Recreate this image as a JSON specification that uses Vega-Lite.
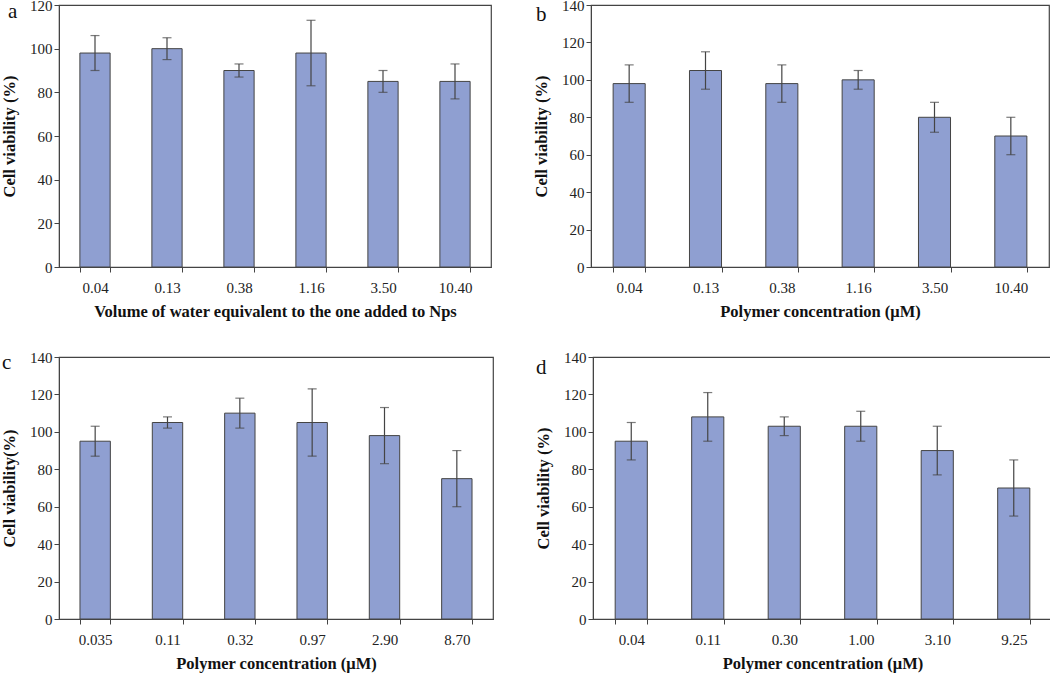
{
  "$schema": "https://vega.github.io/schema/vega-lite/v6.json",
  "padding": {"left": 0, "top": -3, "right": 4, "bottom": 0},
  "background": "white",
  "spacing": 28,
  "config": {
    "font": "Liberation Serif",
    "view": {"stroke": "#444444", "strokeWidth": 1.2},
    "axis": {
      "labelFont": "Liberation Serif", "labelFontSize": 15, "labelColor": "#222222", "labelOverlap": false,
      "titleFont": "Liberation Serif", "titleFontSize": 16.5, "titleFontWeight": "bold", "titleColor": "#111111",
      "domainColor": "#444444", "tickColor": "#444444", "grid": false, "tickSize": 5
    },
    "title": {"font": "Liberation Serif", "fontSize": 21, "fontWeight": "normal", "color": "#111111", "anchor": "start", "frame": "group", "offset": 0, "baseline": "alphabetic"},
    "concat": {"spacing": 40}
  },
  "datasets": {
    "a": [
      {"x": "0.04", "v": 98, "lo": 90, "hi": 106},
      {"x": "0.13", "v": 100, "lo": 95, "hi": 105},
      {"x": "0.38", "v": 90, "lo": 87, "hi": 93},
      {"x": "1.16", "v": 98, "lo": 83, "hi": 113},
      {"x": "3.50", "v": 85, "lo": 80, "hi": 90},
      {"x": "10.40", "v": 85, "lo": 77, "hi": 93}
    ],
    "b": [
      {"x": "0.04", "v": 98, "lo": 88, "hi": 108},
      {"x": "0.13", "v": 105, "lo": 95, "hi": 115},
      {"x": "0.38", "v": 98, "lo": 88, "hi": 108},
      {"x": "1.16", "v": 100, "lo": 95, "hi": 105},
      {"x": "3.50", "v": 80, "lo": 72, "hi": 88},
      {"x": "10.40", "v": 70, "lo": 60, "hi": 80}
    ],
    "c": [
      {"x": "0.035", "v": 95, "lo": 87, "hi": 103},
      {"x": "0.11", "v": 105, "lo": 102, "hi": 108},
      {"x": "0.32", "v": 110, "lo": 102, "hi": 118},
      {"x": "0.97", "v": 105, "lo": 87, "hi": 123},
      {"x": "2.90", "v": 98, "lo": 83, "hi": 113},
      {"x": "8.70", "v": 75, "lo": 60, "hi": 90}
    ],
    "d": [
      {"x": "0.04", "v": 95, "lo": 85, "hi": 105},
      {"x": "0.11", "v": 108, "lo": 95, "hi": 121},
      {"x": "0.30", "v": 103, "lo": 98, "hi": 108},
      {"x": "1.00", "v": 103, "lo": 95, "hi": 111},
      {"x": "3.10", "v": 90, "lo": 77, "hi": 103},
      {"x": "9.25", "v": 70, "lo": 55, "hi": 85}
    ]
  },
  "vconcat": [
    {
      "hconcat": [
        {
          "title": {"text": "a", "dx": -51, "dy": 28},
          "width": 432, "height": 262,
          "data": {"name": "a"},
          "encoding": {
            "x": {"field": "x", "type": "nominal", "sort": null,
                  "scale": {"paddingInner": 0.58, "paddingOuter": 0.29},
                  "axis": {"title": "Volume of water equivalent to the one added to Nps", "labelAngle": 0, "tickBand": "extent", "labelPadding": 8, "titlePadding": 8}}
          },
          "layer": [
            {"mark": {"type": "bar", "fill": "#8f9fd1", "stroke": "#444444", "strokeWidth": 1},
             "encoding": {"y": {"field": "v", "type": "quantitative", "scale": {"domain": [0, 120]},
               "axis": {"title": "Cell viability (%)", "values": [0, 20, 40, 60, 80, 100, 120], "tickCount": 20, "labelOverlap": false, "labelPadding": 2, "minExtent": 30, "maxExtent": 30, "titlePadding": 12}}}},
            {"mark": {"type": "rule", "color": "#444444", "strokeWidth": 1.2},
             "encoding": {"y": {"field": "lo", "type": "quantitative"}, "y2": {"field": "hi"}}},
            {"mark": {"type": "tick", "color": "#444444", "size": 9, "thickness": 1.2},
             "encoding": {"y": {"field": "lo", "type": "quantitative"}}},
            {"mark": {"type": "tick", "color": "#444444", "size": 9, "thickness": 1.2},
             "encoding": {"y": {"field": "hi", "type": "quantitative"}}}
          ]
        },
        {
          "title": {"text": "b", "dx": -55, "dy": 31},
          "width": 458, "height": 262,
          "data": {"name": "b"},
          "encoding": {
            "x": {"field": "x", "type": "nominal", "sort": null,
                  "scale": {"paddingInner": 0.58, "paddingOuter": 0.29},
                  "axis": {"title": "Polymer concentration (μM)", "labelAngle": 0, "tickBand": "extent", "labelPadding": 8, "titlePadding": 8}}
          },
          "layer": [
            {"mark": {"type": "bar", "fill": "#8f9fd1", "stroke": "#444444", "strokeWidth": 1},
             "encoding": {"y": {"field": "v", "type": "quantitative", "scale": {"domain": [0, 140]},
               "axis": {"title": "Cell viability (%)", "values": [0, 20, 40, 60, 80, 100, 120, 140], "tickCount": 20, "labelOverlap": false, "labelPadding": 2, "minExtent": 30, "maxExtent": 30, "titlePadding": 12}}}},
            {"mark": {"type": "rule", "color": "#444444", "strokeWidth": 1.2},
             "encoding": {"y": {"field": "lo", "type": "quantitative"}, "y2": {"field": "hi"}}},
            {"mark": {"type": "tick", "color": "#444444", "size": 9, "thickness": 1.2},
             "encoding": {"y": {"field": "lo", "type": "quantitative"}}},
            {"mark": {"type": "tick", "color": "#444444", "size": 9, "thickness": 1.2},
             "encoding": {"y": {"field": "hi", "type": "quantitative"}}}
          ]
        }
      ]
    },
    {
      "hconcat": [
        {
          "title": {"text": "c", "dx": -57, "dy": 27},
          "width": 434, "height": 262,
          "data": {"name": "c"},
          "encoding": {
            "x": {"field": "x", "type": "nominal", "sort": null,
                  "scale": {"paddingInner": 0.58, "paddingOuter": 0.29},
                  "axis": {"title": "Polymer concentration (μM)", "labelAngle": 0, "tickBand": "extent", "labelPadding": 8, "titlePadding": 8}}
          },
          "layer": [
            {"mark": {"type": "bar", "fill": "#8f9fd1", "stroke": "#444444", "strokeWidth": 1},
             "encoding": {"y": {"field": "v", "type": "quantitative", "scale": {"domain": [0, 140]},
               "axis": {"title": "Cell viability(%)", "values": [0, 20, 40, 60, 80, 100, 120, 140], "tickCount": 20, "labelOverlap": false, "labelPadding": 2, "minExtent": 30, "maxExtent": 30, "titlePadding": 12}}}},
            {"mark": {"type": "rule", "color": "#444444", "strokeWidth": 1.2},
             "encoding": {"y": {"field": "lo", "type": "quantitative"}, "y2": {"field": "hi"}}},
            {"mark": {"type": "tick", "color": "#444444", "size": 9, "thickness": 1.2},
             "encoding": {"y": {"field": "lo", "type": "quantitative"}}},
            {"mark": {"type": "tick", "color": "#444444", "size": 9, "thickness": 1.2},
             "encoding": {"y": {"field": "hi", "type": "quantitative"}}}
          ]
        },
        {
          "title": {"text": "d", "dx": -57, "dy": 32},
          "width": 459, "height": 262,
          "data": {"name": "d"},
          "encoding": {
            "x": {"field": "x", "type": "nominal", "sort": null,
                  "scale": {"paddingInner": 0.58, "paddingOuter": 0.29},
                  "axis": {"title": "Polymer concentration (μM)", "labelAngle": 0, "tickBand": "extent", "labelPadding": 8, "titlePadding": 8}}
          },
          "layer": [
            {"mark": {"type": "bar", "fill": "#8f9fd1", "stroke": "#444444", "strokeWidth": 1},
             "encoding": {"y": {"field": "v", "type": "quantitative", "scale": {"domain": [0, 140]},
               "axis": {"title": "Cell viability (%)", "values": [0, 20, 40, 60, 80, 100, 120, 140], "tickCount": 20, "labelOverlap": false, "labelPadding": 2, "minExtent": 30, "maxExtent": 30, "titlePadding": 12}}}},
            {"mark": {"type": "rule", "color": "#444444", "strokeWidth": 1.2},
             "encoding": {"y": {"field": "lo", "type": "quantitative"}, "y2": {"field": "hi"}}},
            {"mark": {"type": "tick", "color": "#444444", "size": 9, "thickness": 1.2},
             "encoding": {"y": {"field": "lo", "type": "quantitative"}}},
            {"mark": {"type": "tick", "color": "#444444", "size": 9, "thickness": 1.2},
             "encoding": {"y": {"field": "hi", "type": "quantitative"}}}
          ]
        }
      ]
    }
  ]
}
